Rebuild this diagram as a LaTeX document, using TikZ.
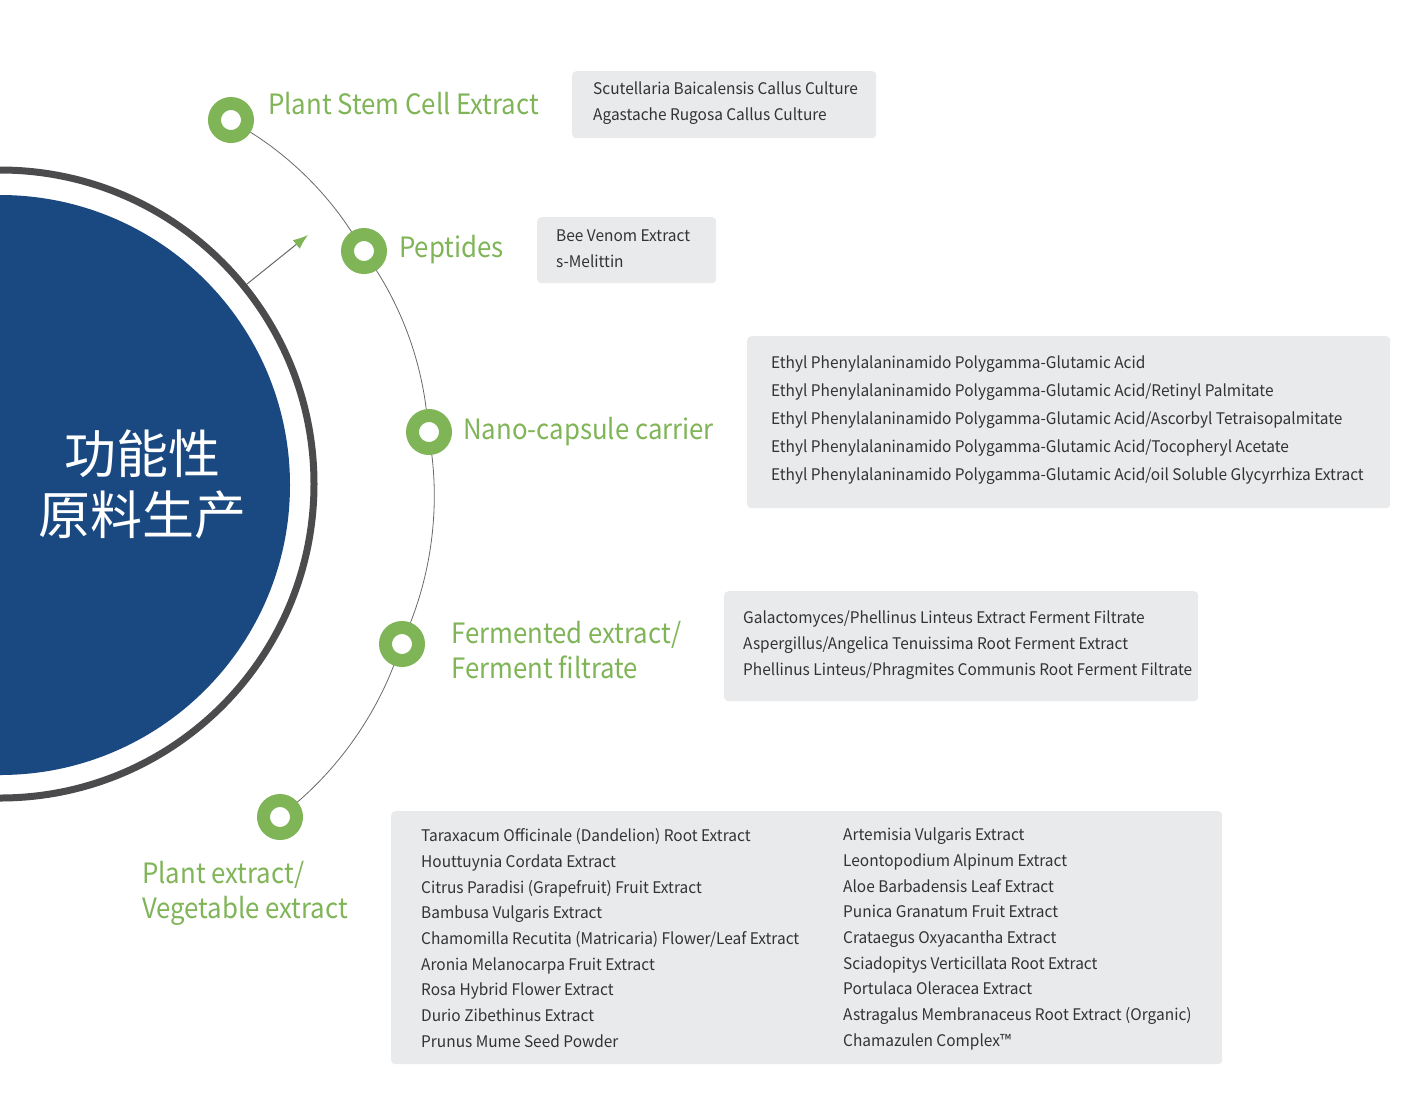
\documentclass[tikz,border=0pt]{standalone}
\usepackage{fontspec}
\setmainfont{Noto Sans CJK SC}
\newfontfamily\catfont{Noto Sans CJK SC}[FakeStretch=0.92]
\newfontfamily\listfont{Noto Sans CJK SC}[FakeStretch=0.965]
\usetikzlibrary{arrows.meta}
\definecolor{coreblue}{RGB}{26,73,129}
\definecolor{ringgray}{RGB}{75,75,77}
\definecolor{leafgreen}{RGB}{127,180,87}
\definecolor{boxgray}{RGB}{233,234,236}
\definecolor{listgray}{RGB}{51,51,51}
\definecolor{arcgray}{RGB}{105,105,105}

\begin{document}
\begin{tikzpicture}[x=1pt, y=-1pt,
  dot/.style={circle, draw=leafgreen, fill=white, line width=13pt, minimum size=33pt, inner sep=0pt},
  catlabel/.style={anchor=west, text=leafgreen, font=\catfont\fontsize{28}{35}\selectfont, align=left, inner sep=0pt},
  listbox/.style={fill=boxgray, rounded corners=4pt, anchor=north west, inner sep=0pt},
  listtext/.style={anchor=west, text=listgray, font=\listfont\fontsize{16}{25.7}\selectfont, align=left, inner sep=0pt},
  arcline/.style={draw=arcgray, line width=0.8pt, bend left=#1, looseness=0.85}]
  \useasboundingbox (0,0) rectangle (1412,1104);
  \clip (0,0) rectangle (1412,1104);
  % core circle
  \node[circle, draw=ringgray, line width=7pt, minimum size=628pt, inner sep=0pt] (ring) at (0,484) {};
  \node[circle, fill=coreblue, minimum size=580pt, inner sep=0pt] (core) at (0,485) {};
  \node[text=white, font=\fontsize{52}{61}\selectfont, align=center] (title) at (142,484) {功能性\\原料生产};
  \coordinate (arrowtip) at (308,235);
  \draw[arcgray, line width=1pt, -{Latex[color=leafgreen, length=15pt, width=11pt]}] (ring.39) -- (arrowtip);
  % rings on the arc
  \node[dot] (stem) at (231,120) {};
  \node[dot] (pep) at (364,251) {};
  \node[dot] (nano) at (429,432) {};
  \node[dot] (ferm) at (402,644) {};
  \node[dot] (plant) at (280,817) {};
  \draw[arcline=12.5] (stem) to (pep);
  \draw[arcline=12.85] (pep) to (nano);
  \draw[arcline=14.3] (nano) to (ferm);
  \draw[arcline=14.15] (ferm) to (plant);
  % category labels
  \node[catlabel] (stemlabel) at (268,104) {Plant Stem Cell Extract};
  \node[catlabel] (peplabel) at (399,250) {Peptides};
  \node[catlabel] (nanolabel) at (463,432) {Nano-capsule carrier};
  \node[catlabel] (fermlabel) at (451,650) {Fermented extract/\\Ferment filtrate};
  \node[catlabel] (plantlabel) at (142,893) {Plant extract/\\Vegetable extract};
  % ingredient boxes
  \node[listbox, minimum width=304pt, minimum height=67pt] (stembox) at (572,71) {};
  \node[listtext] (stemlist) at (593,103) {Scutellaria Baicalensis Callus Culture\\Agastache Rugosa Callus Culture};
  \node[listbox, minimum width=179pt, minimum height=66pt] (pepbox) at (537,217) {};
  \node[listtext] (peplist) at (556,249) {Bee Venom Extract\\s-Melittin};
  \node[listbox, minimum width=643pt, minimum height=172pt] (nanobox) at (747,336) {};
  \node[listtext, font=\listfont\fontsize{16}{28}\selectfont] (nanolist) at (771,420) {Ethyl Phenylalaninamido Polygamma-Glutamic Acid\\
    Ethyl Phenylalaninamido Polygamma-Glutamic Acid/Retinyl Palmitate\\
    Ethyl Phenylalaninamido Polygamma-Glutamic Acid/Ascorbyl Tetraisopalmitate\\
    Ethyl Phenylalaninamido Polygamma-Glutamic Acid/Tocopheryl Acetate\\
    Ethyl Phenylalaninamido Polygamma-Glutamic Acid/oil Soluble Glycyrrhiza Extract};
  \node[listbox, minimum width=474pt, minimum height=110pt] (fermbox) at (724,591) {};
  \node[listtext] (fermlist) at (743,645) {Galactomyces/Phellinus Linteus Extract Ferment Filtrate\\
    Aspergillus/Angelica Tenuissima Root Ferment Extract\\
    Phellinus Linteus/Phragmites Communis Root Ferment Filtrate};
  \node[listbox, minimum width=831pt, minimum height=253pt] (plantbox) at (391,811) {};
  \node[listtext] (plantlistA) at (421,938) {Taraxacum Officinale (Dandelion) Root Extract\\
    Houttuynia Cordata Extract\\
    Citrus Paradisi (Grapefruit) Fruit Extract\\
    Bambusa Vulgaris Extract\\
    Chamomilla Recutita (Matricaria) Flower/Leaf Extract\\
    Aronia Melanocarpa Fruit Extract\\
    Rosa Hybrid Flower Extract\\
    Durio Zibethinus Extract\\
    Prunus Mume Seed Powder};
  \node[listtext] (plantlistB) at (843,939) {Artemisia Vulgaris Extract\\
    Leontopodium Alpinum Extract\\
    Aloe Barbadensis Leaf Extract\\
    Punica Granatum Fruit Extract\\
    Crataegus Oxyacantha Extract\\
    Sciadopitys Verticillata Root Extract\\
    Portulaca Oleracea Extract\\
    Astragalus Membranaceus Root Extract (Organic)\\
    Chamazulen Complex™};
\end{tikzpicture}
\end{document}
